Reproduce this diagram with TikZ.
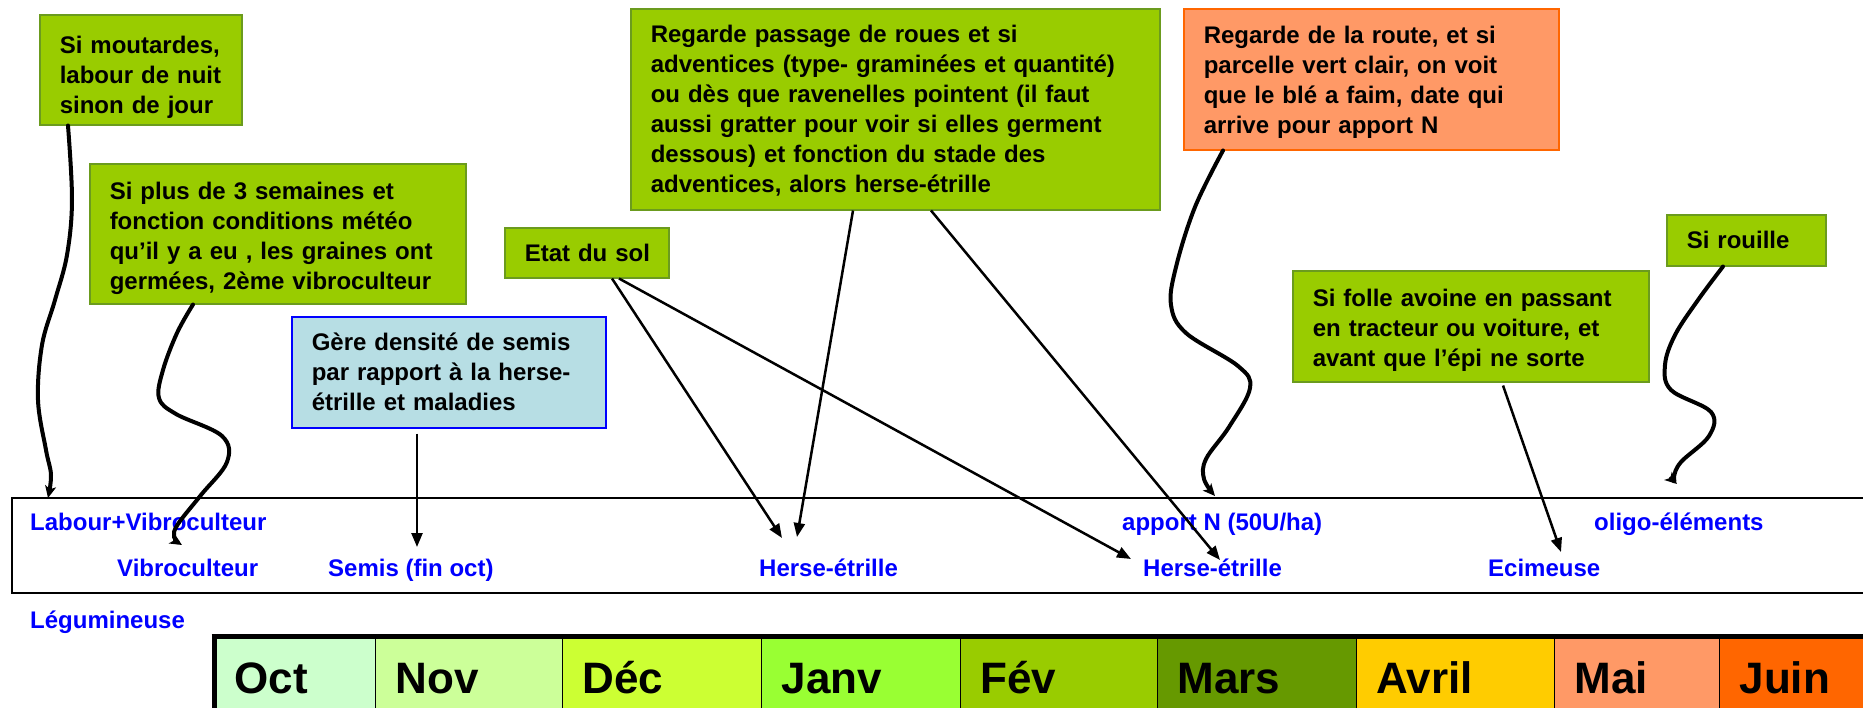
\documentclass[tikz,border=0pt]{standalone}
\usepackage{fontspec}
\setmainfont{Liberation Sans}
\usetikzlibrary{arrows.meta}
\definecolor{gfill}{HTML}{99CC00}
\definecolor{gline}{RGB}{107,155,30}
\definecolor{ofill}{HTML}{FF9966}
\definecolor{oline}{HTML}{FF6600}
\definecolor{bfill}{RGB}{183,222,228}
\definecolor{lblue}{HTML}{0000FF}
\definecolor{cOct}{HTML}{CCFFCC}
\definecolor{cNov}{HTML}{CCFF99}
\definecolor{cDec}{HTML}{CCFF33}
\definecolor{cJan}{HTML}{99FF33}
\definecolor{cFev}{HTML}{99CC00}
\definecolor{cMar}{HTML}{669900}
\definecolor{cAvr}{HTML}{FFCC00}
\definecolor{cMai}{HTML}{FF9966}
\definecolor{cJui}{HTML}{FF6600}
\newcommand\topgap[1]{\rule{0pt}{#1pt}}
\begin{document}
\begin{tikzpicture}[x=1pt,y=-1pt,
  box/.style={anchor=north west, inner xsep=20pt, inner ysep=0pt, align=left,
    font=\fontsize{24}{30}\selectfont\bfseries, line width=1.5pt},
  gbox/.style={box, fill=gfill, draw=gline},
  obox/.style={box, fill=ofill, draw=oline},
  bbox/.style={box, fill=bfill, draw=lblue},
  lab/.style={anchor=base west, inner sep=0pt, text=lblue,
    font=\fontsize{24}{28}\selectfont\bfseries},
  month/.style={anchor=north west, draw=black, line width=1.2pt, inner xsep=20pt,
    inner ysep=0pt, minimum height=80pt, text height=32pt, text depth=0pt,
    align=left, font=\fontsize{44}{50}\selectfont\bfseries},
  straight/.style={line width=2.5pt, -{Triangle[length=14pt,width=11pt]}},
  curvy/.style={line width=4pt, line cap=round, line join=round,
    -{Stealth[length=12pt,width=11pt,inset=3pt]}}
]
\useasboundingbox (0,0) rectangle (1863,707);
\clip (0,0) rectangle (1863,707);

% timeline frame
\node[draw=black, line width=1.8pt, anchor=north west, minimum width=1859pt,
  minimum height=95pt, inner sep=0pt] (tl) at (11,497) {};

% labels
\node[lab] (lLabour) at (30,530) {Labour+Vibroculteur};
\node[lab] (lVibro) at (117,576) {Vibroculteur};
\node[lab] (lSemis) at (328,576) {Semis (fin oct)};
\node[lab] (lHerseA) at (759,576) {Herse-étrille};
\node[lab] (lApport) at (1122,530) {apport N (50U/ha)};
\node[lab] (lHerseB) at (1143,576) {Herse-étrille};
\node[lab] (lEcim) at (1488,576) {Ecimeuse};
\node[lab] (lOligo) at (1594,530) {oligo-éléments};
\node[lab] (lLegum) at (30,628) {Légumineuse};

% boxes
\node[gbox, text width=162pt, minimum height=110pt] (m1) at (39,14)
  {\mbox{\topgap{32}Si moutardes,}\\\mbox{labour de nuit}\\\mbox{sinon de jour}};
\node[gbox, text width=336pt, minimum height=140pt] (m2) at (89,163)
  {\mbox{\topgap{27}Si plus de 3 semaines et}\\\mbox{fonction conditions météo}\\\mbox{qu’il y a eu , les graines ont}\\\mbox{germées, 2ème vibroculteur}};
\node[bbox, text width=274pt, minimum height=111pt] (m3) at (291,316)
  {\mbox{Gère densité de semis}\\\mbox{par rapport à la herse-}\\\mbox{étrille et maladies}};
\node[gbox, text width=124pt, minimum height=50pt] (m4) at (504,227)
  {\mbox{Etat du sol}};
\node[gbox, text width=489pt, minimum height=201pt] (m5) at (630,8)
  {\mbox{\topgap{20}Regarde passage de roues et si}\\\mbox{adventices (type- graminées et quantité)}\\\mbox{ou dès que ravenelles pointent (il faut}\\\mbox{aussi gratter pour voir si elles germent}\\\mbox{dessous) et fonction du stade des}\\\mbox{adventices, alors herse-étrille}};
\node[obox, text width=335pt, minimum height=141pt] (m6) at (1183,8)
  {\mbox{\topgap{23.5}Regarde de la route, et si}\\\mbox{parcelle vert clair, on voit}\\\mbox{que le blé a faim, date qui}\\\mbox{arrive pour apport N}};
\node[gbox, text width=119pt, minimum height=51pt] (m7) at (1666,214)
  {\mbox{Si rouille}};
\node[gbox, text width=316pt, minimum height=111pt] (m8) at (1292,270)
  {\mbox{\topgap{26}Si folle avoine en passant}\\\mbox{en tracteur ou voiture, et}\\\mbox{avant que l’épi ne sorte}};

% months
\node[month, fill=cOct, text width=121pt] (oct) at (214,636.5) {Oct};
\node[month, fill=cNov, text width=147pt] (nov) at (375,636.5) {Nov};
\node[month, fill=cDec, text width=159pt] (dec) at (562,636.5) {Déc};
\node[month, fill=cJan, text width=159pt] (jan) at (761,636.5) {Janv};
\node[month, fill=cFev, text width=157pt] (fev) at (960,636.5) {Fév};
\node[month, fill=cMar, text width=159pt] (mar) at (1157,636.5) {Mars};
\node[month, fill=cAvr, text width=158pt] (avr) at (1356,636.5) {Avril};
\node[month, fill=cMai, text width=125pt] (mai) at (1554,636.5) {Mai};
\node[month, fill=cJui, text width=111pt] (jui) at (1719,636.5) {Juin};
\draw[line width=5pt] ([xshift=-2.5pt]oct.north west) -- (jui.north east);
\draw[line width=5pt] (oct.north west) -- (oct.south west);

% arrow targets
\coordinate (t1) at (48,498);
\coordinate (t2) at (182,545);
\coordinate (t3) at (417,547);
\coordinate (t4) at (782,538);
\coordinate (t5) at (797,537);
\coordinate (t6) at (1131,559);
\coordinate (t7) at (1220,560);
\coordinate (t8) at (1215,496);
\coordinate (t9) at (1561,552);
\coordinate (t10) at (1677,484);

% curved connectors
\draw[curvy] plot[smooth, tension=0.6] coordinates {([xshift=29pt]m1.south west)
  (72,200) (67,255) (55,300) (42,345) (38,400) (46,450) (51,475) (t1)};
\draw[curvy] plot[smooth, tension=0.6] coordinates {([xshift=104pt]m2.south west)
  (177,333) (163,370) (159,398) (176,414) (222,436) (227,462) (201,495) (178,524) (174,537) (t2)};
\draw[curvy] plot[smooth, tension=0.6] coordinates {([xshift=40pt]m6.south west)
  (1195,207) (1176,267) (1171,305) (1186,333) (1238,366) (1250,388) (1229,427) (1206,459) (1204,479) (t8)};
\draw[curvy] plot[smooth, tension=0.6] coordinates {([xshift=57pt]m7.south west)
  (1698,300) (1675,335) (1665,365) (1671,390) (1711,412) (1709,436) (1681,462) (1674,477) (t10)};

% straight connectors
\draw[straight] ([xshift=126pt,yshift=-5pt]m3.south west) -- (t3);
\draw[straight] ([xshift=108pt]m4.south west) -- (t4);
\draw[straight] ([xshift=115pt]m4.south west) -- (t6);
\draw[straight] ([xshift=223pt]m5.south west) -- (t5);
\draw[straight] ([xshift=301pt]m5.south west) -- (t7);
\draw[straight] ([xshift=211pt,yshift=-3pt]m8.south west) -- (t9);
\end{tikzpicture}
\end{document}
